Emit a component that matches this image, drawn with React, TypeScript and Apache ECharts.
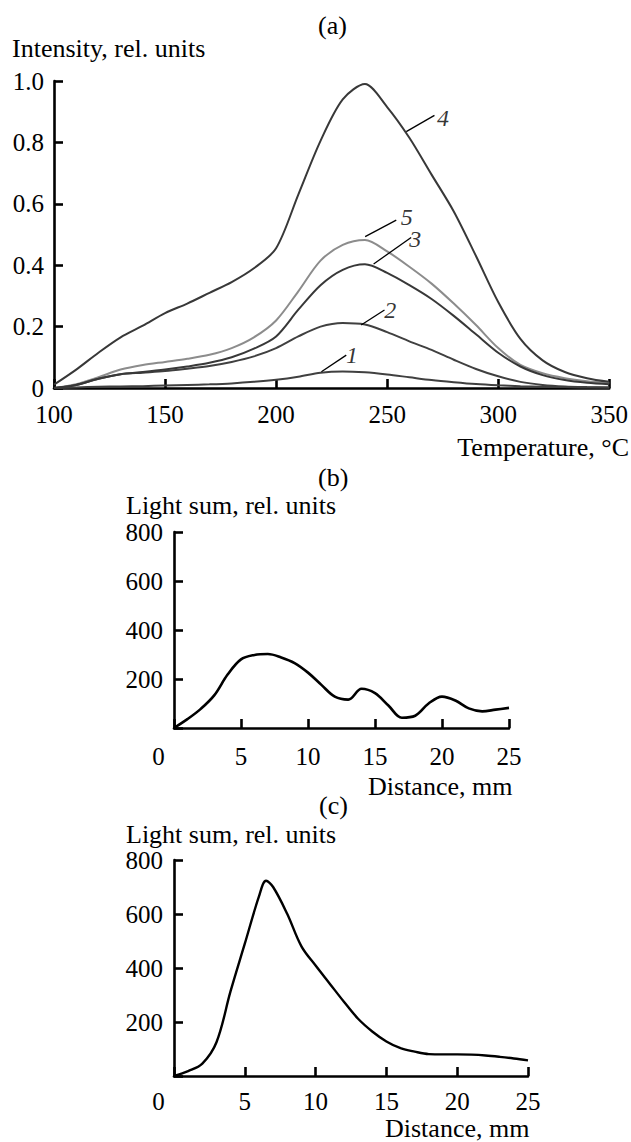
import React, { useEffect, useRef } from "react";
import * as echarts from "echarts";

// ---- Panel (a): thermoluminescence curves ----
const temperature = [100, 110, 120, 130, 140, 150, 160, 170, 180, 190, 200, 210, 220, 230, 240, 250, 260, 270, 280, 290, 300, 310, 320, 330, 340, 350];
const curve1 = [0, 0.002, 0.004, 0.005, 0.006, 0.008, 0.01, 0.012, 0.015, 0.02, 0.027, 0.037, 0.05, 0.054, 0.051, 0.044, 0.035, 0.026, 0.019, 0.013, 0.009, 0.006, 0.004, 0.003, 0.002, 0.002];
const curve2 = [0, 0.01, 0.03, 0.045, 0.05, 0.055, 0.063, 0.072, 0.085, 0.103, 0.13, 0.168, 0.2, 0.212, 0.207, 0.182, 0.152, 0.124, 0.092, 0.062, 0.038, 0.02, 0.01, 0.005, 0.003, 0.002];
const curve3 = [0, 0.01, 0.03, 0.045, 0.052, 0.06, 0.07, 0.082, 0.1, 0.128, 0.168, 0.255, 0.335, 0.385, 0.403, 0.375, 0.335, 0.29, 0.235, 0.175, 0.115, 0.07, 0.042, 0.026, 0.017, 0.012];
const curve4 = [0.011, 0.06, 0.115, 0.165, 0.203, 0.244, 0.275, 0.31, 0.345, 0.39, 0.455, 0.63, 0.805, 0.94, 0.99, 0.915, 0.815, 0.695, 0.575, 0.43, 0.28, 0.16, 0.09, 0.052, 0.032, 0.02];
const curve5 = [0, 0.012, 0.035, 0.06, 0.075, 0.085, 0.095, 0.108, 0.13, 0.165, 0.22, 0.315, 0.415, 0.466, 0.482, 0.445, 0.395, 0.34, 0.275, 0.205, 0.13, 0.075, 0.048, 0.032, 0.022, 0.016];

const curveNames = ["1", "2", "3", "4", "5"];
const leaderFrom = [[220.4, 0.053], [238.3, 0.205], [243.9, 0.404], [258.6, 0.835], [240.1, 0.493]];
const leaderTo = [[231.6, 0.107], [248.8, 0.254], [260.8, 0.49], [271.3, 0.888], [254.1, 0.547]];
const labelAt = [[234.2, 0.108], [251.4, 0.255], [262.6, 0.485], [275.2, 0.878], [258.8, 0.556]];

// ---- Panel (b): light sum vs distance ----
const distanceB = [0, 1, 2, 3, 4, 5, 6, 7, 8, 9, 10, 11, 12, 13, 14, 15, 16, 17, 18, 19, 20, 21, 22, 23, 24, 25];
const lightSumB = [0, 36, 78, 133, 218, 280, 298, 302, 288, 265, 226, 176, 128, 116, 160, 142, 92, 42, 50, 100, 128, 112, 80, 68, 75, 82];

// ---- Panel (c): light sum vs distance ----
const distanceC = [0, 1, 2, 3, 4, 5, 6, 6.5, 7, 8, 9, 10, 11, 12, 13, 14, 15, 16, 17, 18, 19, 20, 21, 22, 23, 24, 25];
const lightSumC = [0, 18, 46, 125, 315, 490, 665, 723, 700, 600, 480, 409, 342, 275, 212, 165, 128, 103, 90, 81, 80, 80, 79, 76, 71, 65, 58];

const FONT = "'Liberation Serif', 'Times New Roman', serif";
const FS = 25;
const NAME_FS = 26;

export default function App() {
  const ref = useRef<HTMLDivElement>(null);
  useEffect(() => {
    if (!ref.current) return;
    const chart = echarts.init(ref.current, null, { renderer: "svg" });
    const axisLine = { show: true, lineStyle: { color: "#000", width: 2.6 } };
    const axisTick = { show: true, inside: true, length: 9, lineStyle: { color: "#000", width: 2.6 } };
    const labelStyle = { color: "#000", fontFamily: FONT, fontSize: FS };
    const zip = (xs: number[], ys: number[]) => xs.map((x, i) => [x, ys[i]]);
    const curves = [curve1, curve2, curve3, curve4, curve5];
    const curveColors = ["#404040", "#404040", "#383838", "#383838", "#8c8c8c"];

    const series: any[] = [];
    curves.forEach((c, i) => {
      series.push({
        type: "line", xAxisIndex: 0, yAxisIndex: 0, data: zip(temperature, c),
        smooth: 0.3, showSymbol: false, lineStyle: { color: curveColors[i], width: 2 }, z: i === 4 ? 2 : 3,
      });
    });
    curveNames.forEach((n, i) => {
      series.push({
        type: "line", xAxisIndex: 0, yAxisIndex: 0, data: [leaderFrom[i], leaderTo[i]],
        showSymbol: false, lineStyle: { color: "#000", width: 1.3 },
      });
    });
    series.push({
      type: "scatter", xAxisIndex: 0, yAxisIndex: 0, symbolSize: 0,
      data: labelAt.map((p, i) => ({ value: p, name: curveNames[i] })),
      label: { show: true, position: "inside", formatter: (p: any) => p.name, color: "#000", fontFamily: FONT, fontSize: 24, fontStyle: "italic", lineHeight: 18 },
    });
    series.push({
      type: "line", xAxisIndex: 1, yAxisIndex: 1, data: zip(distanceB, lightSumB),
      smooth: 0.35, showSymbol: false, lineStyle: { color: "#000", width: 2.6 },
    });
    series.push({
      type: "line", xAxisIndex: 2, yAxisIndex: 2, data: zip(distanceC, lightSumC),
      smooth: 0.35, showSymbol: false, lineStyle: { color: "#000", width: 2.4 },
    });

    const distLabel = (margin: number) => ({
      ...labelStyle, margin,
      formatter: (v: number) => (v === 0 ? "{z|0}" : String(v)),
      rich: { z: { fontFamily: FONT, fontSize: FS, color: "#000", padding: [0, 31, 0, 0] } },
    });
    const nameFont = `${NAME_FS}px ${FONT}`;

    chart.setOption({
      animation: false,
      grid: [
        { left: 54, top: 81, width: 556, height: 307 },
        { left: 174, top: 532, width: 335, height: 196 },
        { left: 174, top: 860, width: 354, height: 216 },
      ],
      xAxis: [
        { gridIndex: 0, type: "value", min: 100, max: 350, interval: 50, axisLine, axisTick, splitLine: { show: false }, axisLabel: { ...labelStyle, margin: 14 } },
        { gridIndex: 1, type: "value", min: 0, max: 25, interval: 5, axisLine, axisTick, splitLine: { show: false }, axisLabel: distLabel(16) },
        { gridIndex: 2, type: "value", min: 0, max: 25, interval: 5, axisLine, axisTick, splitLine: { show: false }, axisLabel: distLabel(13) },
      ],
      yAxis: [
        { gridIndex: 0, type: "value", min: 0, max: 1, interval: 0.2, axisLine, axisTick, splitLine: { show: false }, axisLabel: { ...labelStyle, margin: 10, formatter: (v: number) => (v === 0 ? "0" : v.toFixed(1)) } },
        { gridIndex: 1, type: "value", min: 0, max: 800, interval: 200, axisLine, axisTick, splitLine: { show: false }, axisLabel: { ...labelStyle, margin: 11, formatter: (v: number) => (v === 0 ? "" : String(v)) } },
        { gridIndex: 2, type: "value", min: 0, max: 800, interval: 200, axisLine, axisTick, splitLine: { show: false }, axisLabel: { ...labelStyle, margin: 11, formatter: (v: number) => (v === 0 ? "" : String(v)) } },
      ],
      graphic: [
        { type: "text", left: 318, top: 12, style: { text: "(a)", font: nameFont, fill: "#000" } },
        { type: "text", left: 12, top: 35, style: { text: "Intensity, rel. units", font: nameFont, fill: "#000" } },
        { type: "text", right: 2, top: 434, style: { text: "Temperature, °C", font: nameFont, fill: "#000" } },
        { type: "text", left: 318, top: 464, style: { text: "(b)", font: nameFont, fill: "#000" } },
        { type: "text", left: 126, top: 492, style: { text: "Light sum, rel. units", font: nameFont, fill: "#000" } },
        { type: "text", left: 368, top: 773, style: { text: "Distance, mm", font: nameFont, fill: "#000" } },
        { type: "text", left: 319, top: 792, style: { text: "(c)", font: nameFont, fill: "#000" } },
        { type: "text", left: 126, top: 821, style: { text: "Light sum, rel. units", font: nameFont, fill: "#000" } },
        { type: "text", left: 385, top: 1115, style: { text: "Distance, mm", font: nameFont, fill: "#000" } },
      ],
      series,
    });
    return () => chart.dispose();
  }, []);
  return <div ref={ref} style={{ position: "absolute", left: 0, top: 0, width: 631, height: 1142, background: "#fff" }} />;
}
